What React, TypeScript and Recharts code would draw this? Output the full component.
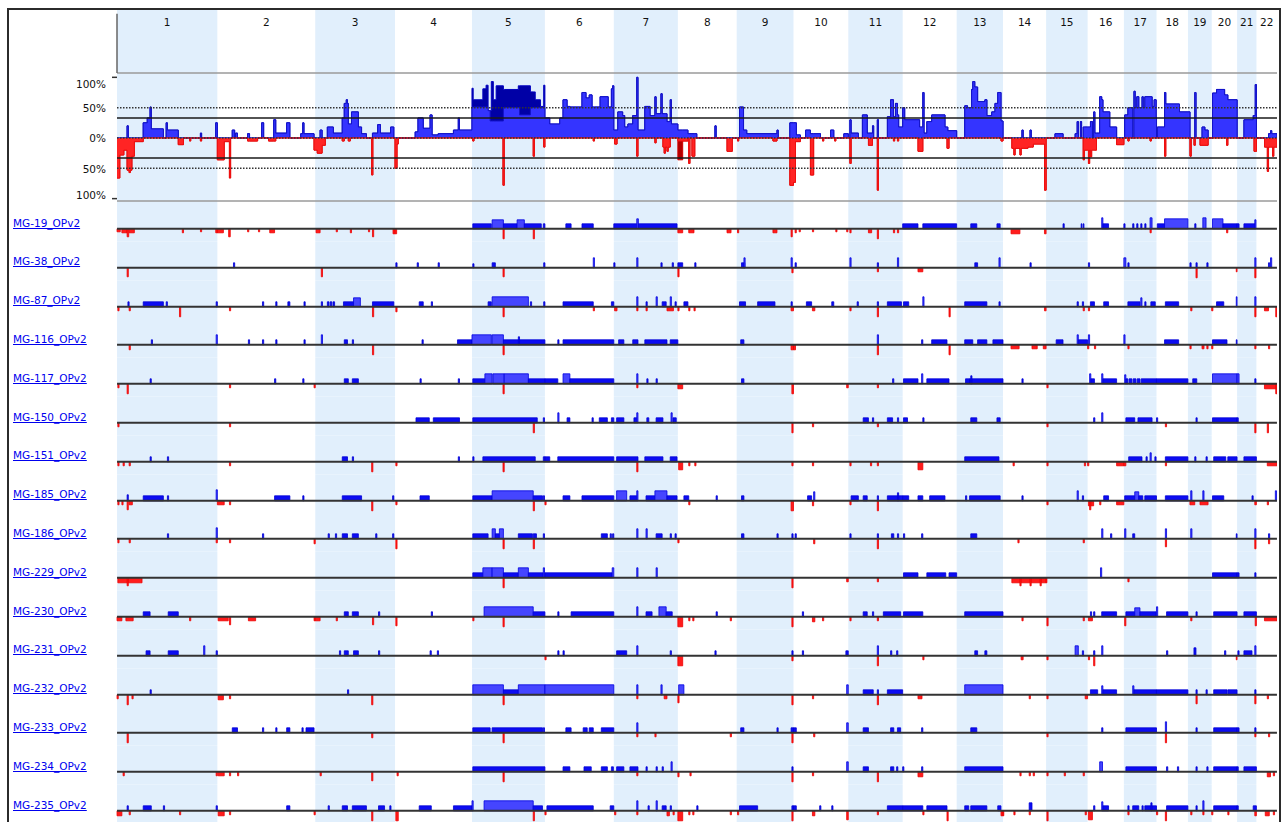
import React from 'react'
import { ComposedChart, Area, XAxis, YAxis, ReferenceArea, ReferenceLine } from 'recharts'

const FONT = '"DejaVu Sans", Verdana, sans-serif'

const CHROMS = ['1', '2', '3', '4', '5', '6', '7', '8', '9', '10', '11', '12', '13', '14', '15', '16', '17', '18', '19', '20', '21', '22']
// chromosome lengths, Mb
const CHROM_MB = [249, 243, 198, 191, 181, 171, 159, 146, 141, 136, 135, 134, 115, 107, 103, 90, 81, 78, 59, 63, 48, 51]

const OFFSETS: number[] = []
let acc = 0
CHROM_MB.forEach((l) => {
  OFFSETS.push(acc)
  acc += l
})
const GENOME = acc

// [chromosome, start Mb, end Mb, value]
type Seg = [number, number, number, number]

// frequency of gains (%)
const GAIN_FREQ: Seg[] = [
  [1, 25, 28, 20], [1, 65, 75, 25], [1, 75, 82, 33], [1, 82, 85, 51], [1, 85, 115, 15], [1, 122, 125, 25], [1, 125, 152, 13], [1, 207, 210, 8], [1, 245, 249, 25],
  [2, 37, 43, 13], [2, 45, 50, 8], [2, 75, 80, 7], [2, 110, 115, 25], [2, 140, 145, 30], [2, 145, 172, 8], [2, 172, 180, 25], [2, 207, 240, 7], [2, 212, 215, 25],
  [3, 12, 17, 13], [3, 30, 45, 18], [3, 45, 67, 8], [3, 67, 72, 33], [3, 72, 82, 57], [3, 77, 80, 63], [3, 82, 90, 23], [3, 90, 107, 43], [3, 107, 115, 18], [3, 115, 127, 7], [3, 142, 155, 8], [3, 155, 162, 22], [3, 162, 187, 8], [3, 187, 195, 18],
  [4, 50, 57, 10], [4, 57, 70, 33], [4, 70, 87, 16], [4, 87, 92, 38], [4, 92, 107, 5], [4, 107, 145, 7], [4, 145, 157, 13], [4, 157, 160, 33], [4, 160, 191, 13],
  [5, 0, 3, 82], [5, 3, 27, 63], [5, 27, 35, 81], [5, 35, 40, 87], [5, 40, 48, 45], [5, 48, 53, 93], [5, 53, 60, 63], [5, 60, 78, 86], [5, 78, 115, 80], [5, 115, 145, 86], [5, 145, 157, 76], [5, 157, 170, 63], [5, 170, 178, 52], [5, 178, 181, 87],
  [6, 0, 12, 33], [6, 12, 37, 23], [6, 37, 45, 33], [6, 45, 55, 63], [6, 55, 62, 52], [6, 62, 92, 51], [6, 92, 102, 75], [6, 102, 110, 66], [6, 110, 117, 71], [6, 117, 137, 51], [6, 137, 157, 68], [6, 157, 165, 51], [6, 165, 168, 81], [6, 168, 171, 86],
  [7, 0, 10, 13], [7, 10, 22, 43], [7, 22, 27, 37], [7, 27, 35, 18], [7, 35, 47, 23], [7, 47, 57, 37], [7, 57, 60, 100], [7, 60, 77, 13], [7, 77, 90, 52], [7, 90, 102, 37], [7, 102, 105, 68], [7, 105, 117, 40], [7, 117, 120, 73], [7, 120, 132, 40], [7, 132, 140, 27], [7, 140, 143, 63], [7, 143, 159, 23],
  [8, 0, 25, 13], [8, 25, 47, 7], [8, 92, 95, 20],
  [9, 7, 17, 51], [9, 17, 25, 13], [9, 25, 100, 7], [9, 100, 103, 13], [9, 132, 141, 25],
  [10, 0, 7, 25], [10, 7, 17, 5], [10, 30, 42, 13], [10, 42, 67, 7], [10, 92, 100, 13], [10, 125, 136, 7],
  [11, 4, 7, 30], [11, 7, 25, 8], [11, 35, 47, 38], [11, 47, 60, 8], [11, 60, 63, 20], [11, 72, 75, 30], [11, 97, 105, 35], [11, 105, 112, 63], [11, 112, 117, 35], [11, 117, 122, 57], [11, 122, 125, 38], [11, 125, 135, 18],
  [12, 0, 5, 50], [12, 5, 42, 30], [12, 42, 50, 18], [12, 50, 53, 75], [12, 53, 60, 8], [12, 60, 72, 27], [12, 72, 105, 38], [12, 105, 112, 18], [12, 112, 134, 12],
  [13, 20, 27, 53], [13, 27, 37, 50], [13, 37, 40, 80], [13, 40, 45, 93], [13, 45, 52, 84], [13, 52, 70, 60], [13, 70, 75, 63], [13, 75, 87, 37], [13, 87, 95, 43], [13, 95, 102, 57], [13, 102, 110, 75], [13, 110, 115, 28],
  [14, 47, 50, 13], [14, 67, 70, 13],
  [15, 22, 42, 7], [15, 72, 80, 7], [15, 77, 80, 27], [15, 85, 88, 27], [15, 92, 103, 18],
  [16, 0, 7, 18], [16, 7, 12, 27], [16, 15, 18, 43], [16, 18, 30, 8], [16, 30, 35, 68], [16, 35, 38, 63], [16, 38, 55, 43], [16, 55, 72, 18],
  [17, 2, 10, 38], [17, 10, 22, 50], [17, 25, 28, 77], [17, 28, 32, 50], [17, 32, 37, 68], [17, 37, 45, 50], [17, 45, 48, 68], [17, 48, 52, 50], [17, 52, 70, 68], [17, 70, 75, 52], [17, 75, 80, 63], [17, 80, 81, 33],
  [18, 2, 20, 18], [18, 20, 23, 75], [18, 23, 57, 56], [18, 57, 78, 43],
  [19, 0, 5, 43], [19, 17, 20, 75], [19, 35, 42, 18], [19, 42, 50, 13],
  [20, 2, 12, 74], [20, 12, 32, 80], [20, 32, 40, 71], [20, 40, 63, 63],
  [21, 17, 40, 30], [21, 40, 45, 37], [21, 45, 48, 88],
  [22, 30, 51, 7], [22, 35, 38, 12],
]

// gain frequency without high-level amplification (chr5)
const GAIN_CORE: Seg[] = [
  [5, 0, 45, 51], [5, 45, 78, 28], [5, 78, 118, 50], [5, 118, 145, 38], [5, 145, 181, 50],
]

// frequency of losses (%)
const LOSS_FREQ: Seg[] = [
  [1, 0, 7, -66], [1, 7, 17, -28], [1, 17, 25, -20], [1, 25, 30, -53], [1, 30, 33, -57], [1, 33, 37, -53], [1, 37, 43, -30], [1, 43, 65, -6], [1, 152, 165, -11], [1, 180, 183, -5], [1, 207, 210, -5],
  [2, 0, 17, -36], [2, 17, 32, -6], [2, 30, 33, -66], [2, 75, 100, -5], [2, 127, 145, -5], [2, 240, 243, -20],
  [3, 0, 5, -20], [3, 5, 17, -25], [3, 17, 25, -12], [3, 67, 72, -5], [3, 82, 87, -5], [3, 140, 143, -61],
  [4, 0, 5, -50], [4, 5, 8, -10],
  [5, 2, 5, -5], [5, 77, 80, -78], [5, 152, 155, -30], [5, 178, 181, -15],
  [6, 120, 123, -5],
  [7, 2, 8, -10], [7, 57, 60, -30], [7, 102, 105, -8], [7, 122, 140, -15], [7, 125, 128, -25], [7, 132, 135, -22],
  [8, 0, 12, -36], [8, 12, 25, -5], [8, 27, 30, -42], [8, 35, 42, -30], [8, 122, 135, -22],
  [9, 2, 5, -5], [9, 90, 100, -5], [9, 132, 141, -78],
  [10, 0, 5, -73], [10, 5, 17, -6], [10, 42, 50, -61], [10, 72, 75, -5], [10, 102, 105, -5],
  [11, 4, 7, -42], [11, 50, 60, -12], [11, 72, 75, -86], [11, 112, 115, -5], [11, 122, 125, -5],
  [12, 38, 50, -22], [12, 110, 115, -17],
  [13, 110, 115, -5],
  [14, 22, 42, -17], [14, 27, 30, -28], [14, 42, 45, -28], [14, 45, 62, -17], [14, 62, 75, -15], [14, 75, 103, -10], [14, 103, 107, -86],
  [15, 92, 103, -20], [15, 92, 95, -36],
  [16, 0, 22, -20], [16, 2, 5, -42], [16, 7, 10, -31], [16, 72, 90, -11],
  [17, 10, 13, -5], [17, 65, 68, -5],
  [18, 20, 23, -30],
  [19, 5, 8, -30], [19, 15, 18, -12], [19, 30, 50, -12],
  [20, 37, 40, -12],
  [21, 42, 48, -22],
  [22, 20, 51, -15], [22, 27, 30, -55], [22, 40, 43, -30],
]

const LOSS_CORE: Seg[] = [[8, 0, 12, -5]]

const SAMPLES = [
  'MG-19_OPv2', 'MG-38_OPv2', 'MG-87_OPv2', 'MG-116_OPv2', 'MG-117_OPv2', 'MG-150_OPv2', 'MG-151_OPv2', 'MG-185_OPv2',
  'MG-186_OPv2', 'MG-229_OPv2', 'MG-230_OPv2', 'MG-231_OPv2', 'MG-232_OPv2', 'MG-233_OPv2', 'MG-234_OPv2', 'MG-235_OPv2',
]

// per-sample segments: positive = gain, negative = loss
const MG19: Seg[] = [
  [1, 0, 8, -0.3], [1, 12, 25, -0.4], [1, 25, 29, -0.8], [1, 30, 43, -0.4], [1, 162, 165, -0.4], [1, 207, 210, -0.3], [1, 245, 249, -0.4], [2, 0, 15, -0.4], [2, 28, 32, -0.8], [2, 75, 78, -0.3], [2, 102, 105, -0.3], [2, 130, 142, -0.4],
  [3, 2, 12, -0.4], [3, 52, 55, -0.3], [3, 87, 90, -0.4], [3, 132, 135, -0.3], [3, 142, 145, -0.8], [3, 193, 198, -0.5], [4, 0, 4, -0.5],
  [5, 2, 48, 0.5], [5, 50, 78, 0.9], [5, 78, 112, 0.5], [5, 112, 130, 0.9], [5, 130, 172, 0.5], [5, 177, 181, 0.5], [6, 52, 65, 0.5], [6, 92, 120, 0.5], [7, 0, 57, 0.5], [7, 57, 61, 1.0], [7, 61, 157, 0.5],
  [5, 77, 80, -1.0], [5, 152, 155, -1.0], [8, 0, 12, -0.4], [8, 27, 40, -0.4], [8, 122, 132, -0.4], [9, 2, 5, -0.4], [9, 90, 100, -0.4], [9, 135, 138, -0.8], [10, 4, 7, -0.4], [10, 14, 17, -0.3], [10, 47, 50, -0.3], [10, 105, 108, -0.3], [10, 132, 135, -0.3],
  [11, 4, 7, -0.4], [11, 50, 58, -0.4], [11, 72, 75, -1.0], [11, 112, 115, -0.4], [11, 122, 125, -0.4], [14, 20, 42, -0.5], [14, 103, 107, -0.5], [17, 65, 68, -0.4], [20, 37, 40, -0.4],
  [12, 0, 38, 0.5], [12, 50, 134, 0.5], [13, 35, 50, 0.5], [13, 100, 108, 0.5], [15, 42, 45, 0.5], [15, 87, 89, 0.5], [15, 92, 94, 0.5], [16, 35, 38, 1.1], [16, 38, 52, 0.5],
  [17, 0, 3, 0.5], [17, 22, 25, 0.5], [17, 32, 35, 0.5], [17, 42, 45, 0.5], [17, 52, 55, 0.5], [17, 65, 70, 1.1], [18, 2, 20, 0.5], [18, 20, 78, 1.0], [19, 17, 20, 0.5], [19, 37, 45, 1.1],
  [20, 2, 28, 1.0], [20, 28, 63, 0.5], [21, 0, 5, 0.5], [21, 17, 45, 0.5], [21, 44, 47, 0.9],
]
const MG38: Seg[] = [
  [2, 40, 43, 0.5], [4, 2, 5, 0.5], [4, 55, 58, 0.5], [4, 107, 110, 0.5], [5, 2, 5, 0.4], [5, 50, 58, 0.5], [5, 178, 181, 0.5], [6, 120, 123, 1.0], [7, 0, 3, 0.5], [7, 57, 60, 1.0], [7, 117, 120, 0.5], [7, 145, 148, 0.5],
  [8, 0, 12, 0.5], [8, 42, 45, 0.5], [9, 12, 20, 0.5], [9, 18, 21, 1.0], [9, 135, 138, 1.0], [10, 4, 7, 0.5], [11, 4, 7, 1.0], [11, 72, 75, 0.5], [11, 122, 125, 1.0], [13, 45, 52, 0.5], [13, 105, 108, 1.0], [14, 67, 70, 0.5],
  [16, 2, 5, 0.5], [17, 0, 5, 1.0], [17, 10, 13, 0.5], [19, 5, 8, 0.5], [19, 20, 23, 0.5], [19, 47, 50, 0.5], [21, 44, 47, 1.0], [22, 30, 33, 0.5], [22, 35, 38, 1.0],
  [1, 25, 28, -0.9], [3, 15, 18, -0.9], [5, 77, 80, -0.9], [8, 0, 3, -0.9], [9, 137, 140, -0.5], [11, 72, 75, -0.4], [12, 38, 50, -0.4], [19, 20, 23, -1.0], [20, 61, 63, -0.4], [21, 44, 47, -1.0],
]
const MG87: Seg[] = [
  [1, 27, 30, 0.5], [1, 65, 115, 0.5], [1, 122, 125, 0.5], [1, 246, 249, 0.5], [2, 112, 115, 0.5], [2, 145, 148, 0.5], [2, 175, 180, 0.5], [2, 215, 218, 0.5], [3, 15, 18, 0.5], [3, 30, 34, 0.5], [3, 37, 41, 0.5], [3, 44, 48, 0.5],
  [3, 70, 95, 0.5], [3, 95, 112, 0.9], [3, 142, 195, 0.5], [4, 60, 70, 0.5], [4, 90, 93, 0.5], [5, 40, 48, 0.5], [5, 50, 140, 1.0], [5, 145, 148, 0.5], [5, 178, 181, 0.5], [6, 45, 120, 0.5], [6, 165, 171, 0.5],
  [7, 57, 60, 1.0], [7, 80, 83, 0.5], [7, 105, 108, 1.0], [7, 120, 130, 0.5], [7, 140, 143, 1.0], [7, 152, 155, 0.5], [8, 15, 25, 0.5], [9, 7, 22, 0.5], [9, 52, 95, 0.5], [9, 135, 138, 0.5], [10, 32, 45, 0.5], [10, 95, 100, 0.5],
  [11, 22, 25, 0.5], [11, 72, 75, 0.5], [11, 97, 132, 0.5], [12, 2, 15, 0.5], [12, 50, 53, 1.0], [13, 20, 75, 0.5], [13, 105, 108, 0.5], [15, 77, 80, 0.5], [15, 90, 93, 0.5], [16, 7, 17, 0.5], [16, 40, 52, 0.5],
  [17, 10, 40, 0.5], [17, 42, 45, 0.9], [17, 52, 55, 0.5], [17, 67, 78, 0.5], [18, 22, 55, 0.5], [20, 12, 30, 0.5], [20, 61, 63, 1.0], [21, 44, 47, 1.0],
  [1, 2, 5, -0.4], [1, 30, 33, -0.4], [1, 155, 158, -1.0], [2, 30, 33, -0.4], [3, 142, 145, -1.0], [4, 2, 5, -0.5], [5, 77, 80, -1.0], [6, 120, 123, -0.4], [7, 2, 8, -0.4], [7, 57, 60, -0.4], [7, 80, 83, -0.4], [7, 132, 148, -0.4],
  [8, 0, 3, -0.4], [8, 27, 30, -0.4], [8, 40, 43, -0.4], [9, 135, 141, -0.4], [10, 47, 53, -0.4], [11, 4, 7, -0.4], [11, 72, 75, -1.0], [12, 115, 118, -1.0], [14, 103, 107, -0.4], [15, 92, 95, -0.4], [16, 2, 5, -0.4],
  [19, 7, 10, -0.4], [20, 0, 3, -0.4], [21, 44, 47, -1.0], [22, 20, 30, -0.4], [22, 48, 51, -1.0],
]
const MG116: Seg[] = [
  [1, 85, 88, 0.5], [1, 246, 249, 1.0], [2, 77, 80, 0.5], [2, 112, 115, 0.5], [2, 145, 148, 0.5], [2, 215, 218, 0.5], [3, 15, 18, 1.0], [3, 72, 80, 0.5], [3, 92, 95, 0.5], [4, 67, 70, 0.5], [4, 155, 191, 0.5],
  [5, 0, 48, 1.0], [5, 50, 78, 1.0], [5, 78, 181, 0.5], [5, 115, 118, 0.8], [6, 32, 35, 0.5], [6, 45, 171, 0.5], [7, 12, 25, 0.5], [7, 47, 60, 0.5], [7, 77, 132, 0.5], [7, 140, 159, 0.5], [9, 10, 18, 0.5],
  [11, 72, 75, 1.0], [12, 47, 50, 0.5], [12, 72, 110, 0.5], [13, 20, 40, 0.5], [13, 52, 75, 0.5], [13, 90, 115, 0.5], [15, 25, 42, 0.5], [15, 77, 80, 1.0], [15, 80, 103, 0.5], [16, 2, 5, 1.0], [17, 0, 3, 1.0],
  [18, 20, 55, 0.5], [20, 2, 38, 0.5], [20, 61, 63, 0.5],
  [1, 30, 33, -0.5], [3, 142, 145, -1.0], [5, 77, 80, -1.0], [9, 135, 141, -0.5], [10, 0, 5, -0.5], [11, 72, 75, -1.0], [12, 115, 118, -1.0], [14, 20, 40, -0.4], [14, 72, 85, -0.4], [14, 100, 107, -0.4],
  [16, 0, 3, -0.4], [16, 17, 20, -0.4], [17, 10, 13, -0.4], [19, 5, 8, -0.4], [19, 35, 40, -0.4], [19, 47, 50, -0.4], [20, 0, 3, -0.4], [21, 44, 47, -0.4], [22, 30, 33, -0.4],
]
const MG117: Seg[] = [
  [1, 82, 85, 0.5], [2, 142, 145, 0.5], [2, 212, 215, 0.5], [3, 72, 82, 0.5], [3, 92, 107, 0.5], [4, 62, 65, 0.5], [4, 157, 160, 0.5], [5, 2, 32, 0.5], [5, 32, 50, 1.0], [5, 52, 80, 1.0], [5, 80, 140, 1.0], [5, 140, 181, 0.5],
  [6, 0, 32, 0.5], [6, 45, 62, 1.0], [6, 62, 171, 0.5], [7, 57, 60, 1.0], [7, 82, 85, 0.5], [7, 105, 108, 0.5], [9, 12, 18, 0.5], [11, 110, 113, 0.5], [12, 2, 38, 0.5], [12, 47, 50, 1.0], [12, 60, 115, 0.5],
  [13, 22, 32, 0.5], [13, 32, 115, 0.5], [13, 35, 38, 0.8], [14, 47, 50, 0.5], [16, 5, 8, 1.0], [16, 8, 17, 0.5], [16, 35, 38, 1.0], [16, 38, 72, 0.5], [17, 2, 5, 0.9], [17, 5, 10, 0.5], [17, 13, 20, 0.5], [17, 23, 30, 0.5],
  [17, 33, 40, 0.5], [17, 43, 81, 0.5], [18, 0, 78, 0.5], [19, 12, 22, 0.5], [20, 2, 63, 1.0], [21, 0, 5, 1.0], [21, 44, 47, 0.5],
  [1, 2, 5, -0.4], [1, 25, 28, -1.0], [2, 30, 33, -0.4], [2, 240, 243, -0.4], [5, 77, 80, -1.0], [7, 57, 60, -0.4], [8, 0, 12, -0.5], [9, 137, 141, -1.0], [10, 132, 136, -0.4], [11, 72, 75, -0.4], [15, 2, 5, -0.4],
  [22, 20, 51, -0.5], [22, 48, 51, -1.0],
]
const MG150: Seg[] = [
  [4, 52, 85, 0.5], [4, 95, 160, 0.5], [5, 2, 162, 0.5], [5, 177, 180, 0.5], [6, 32, 35, 1.0], [6, 55, 62, 0.5], [6, 117, 120, 0.5], [6, 135, 155, 0.5], [6, 165, 171, 0.5], [7, 7, 25, 0.5], [7, 50, 57, 0.5], [7, 57, 60, 1.0],
  [7, 82, 87, 0.5], [7, 105, 122, 0.5], [7, 142, 145, 1.0], [7, 147, 155, 0.5], [11, 37, 50, 0.5], [11, 60, 63, 0.5], [11, 97, 110, 0.5], [11, 122, 125, 0.5], [12, 2, 12, 0.5], [12, 50, 53, 0.5], [13, 35, 50, 0.5],
  [13, 100, 108, 0.5], [16, 15, 18, 0.5], [16, 35, 38, 1.0], [17, 5, 27, 0.5], [17, 35, 70, 0.5], [18, 0, 3, 0.5], [19, 20, 23, 0.5], [20, 2, 63, 0.5], [21, 0, 3, 0.5],
  [1, 2, 5, -0.4], [2, 30, 33, -0.4], [5, 152, 155, -1.0], [9, 137, 140, -1.0], [10, 47, 50, -0.4], [11, 72, 75, -0.4], [15, 2, 5, -0.4], [18, 22, 25, -0.4], [21, 44, 47, -1.0], [22, 27, 30, -1.0],
]
const MG151: Seg[] = [
  [1, 82, 85, 0.5], [1, 125, 128, 0.5], [3, 67, 80, 0.5], [3, 92, 95, 0.5], [4, 157, 160, 0.5], [5, 2, 5, 0.5], [5, 27, 157, 0.5], [5, 177, 181, 0.5], [6, 0, 12, 0.5], [6, 32, 171, 0.5], [7, 7, 60, 0.5], [7, 77, 122, 0.5],
  [7, 140, 157, 0.5], [13, 20, 105, 0.5], [17, 12, 45, 0.5], [17, 55, 58, 0.5], [17, 65, 68, 0.9], [17, 77, 80, 0.5], [18, 22, 78, 0.5], [19, 17, 20, 0.5], [19, 45, 48, 0.5], [20, 5, 35, 0.5], [20, 40, 63, 0.5], [21, 17, 48, 0.5],
  [1, 2, 5, -0.4], [1, 15, 18, -0.4], [1, 30, 33, -0.4], [2, 30, 33, -0.4], [3, 140, 143, -1.0], [4, 2, 5, -0.4], [5, 77, 80, -1.0], [7, 57, 60, -1.0], [8, 2, 12, -0.8], [8, 27, 30, -0.4], [8, 42, 45, -0.4],
  [9, 137, 140, -0.4], [10, 47, 50, -0.4], [11, 4, 7, -0.4], [11, 55, 58, -0.4], [11, 72, 75, -0.4], [12, 38, 50, -0.8], [14, 25, 28, -0.4], [15, 2, 5, -0.4], [15, 95, 98, -0.4], [16, 0, 3, -0.4], [16, 72, 90, -0.4],
  [17, 0, 5, -0.4], [18, 22, 25, -0.4], [22, 27, 51, -0.4],
]
const MG185: Seg[] = [
  [1, 25, 28, 0.6], [1, 65, 115, 0.5], [1, 125, 128, 0.5], [1, 246, 249, 1.1], [2, 142, 180, 0.5], [2, 212, 215, 0.5], [3, 67, 115, 0.5], [3, 192, 195, 0.5], [4, 62, 85, 0.5], [5, 2, 50, 0.5], [5, 50, 152, 1.0], [5, 152, 175, 0.5],
  [5, 177, 180, 0.5], [6, 45, 62, 0.5], [6, 92, 171, 0.5], [7, 7, 32, 1.0], [7, 40, 57, 0.5], [7, 57, 60, 1.0], [7, 80, 102, 0.5], [7, 102, 132, 1.0], [7, 132, 157, 0.5], [8, 15, 27, 0.5], [8, 95, 98, 0.5], [9, 12, 18, 0.5],
  [10, 35, 45, 0.5], [10, 50, 53, 0.9], [11, 7, 25, 0.5], [11, 37, 47, 0.5], [11, 72, 75, 0.5], [11, 97, 135, 0.5], [11, 122, 125, 0.8], [12, 0, 15, 0.5], [12, 38, 50, 0.5], [12, 67, 105, 0.5], [13, 22, 25, 0.5],
  [13, 32, 108, 0.5], [14, 47, 50, 0.5], [15, 77, 80, 1.0], [15, 90, 93, 0.5], [16, 40, 52, 0.5], [17, 2, 27, 0.5], [17, 27, 37, 0.9], [17, 37, 47, 0.5], [17, 52, 81, 0.5], [18, 22, 78, 0.5], [19, 7, 10, 1.0],
  [19, 37, 40, 1.0], [20, 2, 30, 0.5], [21, 37, 40, 0.5], [22, 47, 50, 1.0],
  [1, 2, 5, -0.4], [1, 12, 15, -0.4], [1, 25, 28, -0.9], [1, 30, 38, -0.4], [2, 0, 17, -0.4], [2, 30, 33, -0.4], [3, 140, 143, -1.0], [4, 2, 5, -0.4], [5, 152, 155, -1.0], [6, 0, 3, -0.4], [8, 27, 30, -0.4],
  [9, 135, 141, -1.0], [10, 47, 50, -0.5], [11, 4, 7, -0.4], [11, 72, 75, -1.0], [15, 2, 5, -0.4], [16, 2, 15, -0.5], [16, 5, 8, -0.9], [16, 30, 33, -0.4], [16, 72, 90, -0.4], [19, 5, 17, -0.4], [19, 30, 50, -0.4],
  [21, 44, 48, -0.4], [22, 27, 30, -0.4],
]
const MG186: Seg[] = [
  [1, 125, 128, 0.5], [1, 246, 249, 1.1], [2, 112, 115, 0.5], [3, 32, 35, 0.5], [3, 50, 53, 0.5], [3, 67, 80, 0.5], [3, 92, 107, 0.5], [3, 150, 153, 0.5], [3, 192, 195, 0.5], [5, 2, 40, 0.5], [5, 50, 58, 1.0], [5, 58, 68, 0.5],
  [5, 68, 78, 1.0], [5, 115, 150, 0.5], [5, 152, 160, 0.5], [5, 177, 180, 0.5], [6, 140, 155, 0.5], [6, 162, 165, 0.5], [6, 168, 171, 0.5], [7, 57, 60, 1.0], [7, 80, 83, 1.0], [7, 105, 120, 0.5], [7, 140, 143, 0.5],
  [7, 152, 155, 0.5], [9, 12, 18, 0.5], [9, 100, 103, 0.5], [9, 137, 140, 0.5], [10, 4, 7, 0.5], [11, 4, 7, 0.5], [11, 72, 75, 0.5], [11, 107, 113, 0.5], [11, 122, 125, 0.5], [12, 2, 5, 0.5], [12, 47, 50, 0.5],
  [13, 35, 50, 0.5], [16, 35, 38, 1.0], [16, 57, 60, 0.5], [17, 2, 5, 1.0], [17, 22, 27, 0.5], [18, 22, 25, 1.0], [19, 7, 10, 1.0], [20, 61, 63, 0.5], [21, 44, 47, 1.0], [22, 30, 33, 0.5],
  [1, 2, 5, -0.4], [1, 30, 33, -0.4], [1, 246, 249, -0.4], [2, 30, 33, -0.4], [2, 240, 243, -0.5], [4, 2, 5, -1.0], [5, 77, 80, -1.0], [5, 152, 155, -1.0], [8, 0, 3, -0.4], [10, 50, 53, -0.5], [11, 72, 75, -1.0],
  [14, 37, 40, -0.4], [15, 92, 95, -0.4], [18, 22, 25, -0.8], [21, 44, 47, -1.0], [22, 30, 33, -0.5],
]
const MG229: Seg[] = [
  [5, 2, 27, 0.5], [5, 27, 50, 1.0], [5, 50, 78, 1.0], [5, 78, 115, 0.5], [5, 115, 140, 1.0], [5, 140, 177, 0.5], [5, 177, 180, 1.0], [6, 0, 167, 0.5], [6, 167, 171, 1.0], [7, 57, 60, 1.0], [7, 105, 108, 1.0],
  [12, 2, 38, 0.5], [12, 60, 107, 0.5], [12, 115, 134, 0.5], [16, 32, 35, 1.0], [20, 2, 63, 0.5], [21, 0, 5, 0.5], [21, 44, 47, 0.5],
  [1, 2, 62, -0.5], [1, 25, 28, -0.8], [5, 77, 80, -1.0], [9, 137, 140, -1.0], [10, 132, 136, -0.4], [11, 72, 75, -0.4], [14, 22, 107, -0.5], [15, 0, 2, -0.5], [14, 42, 45, -0.8], [14, 67, 70, -0.8],
  [14, 92, 95, -0.8], [17, 10, 13, -0.4],
]
const MG230: Seg[] = [
  [1, 65, 82, 0.5], [1, 127, 152, 0.5], [3, 72, 82, 0.5], [3, 92, 107, 0.5], [3, 157, 160, 0.5], [4, 90, 93, 0.5], [5, 30, 152, 1.0], [5, 152, 181, 0.5], [6, 32, 35, 0.5], [6, 65, 171, 0.5], [7, 57, 60, 1.0], [7, 80, 95, 0.5],
  [7, 112, 130, 1.0], [7, 130, 145, 0.5], [8, 95, 98, 0.5], [10, 22, 25, 0.5], [11, 37, 47, 0.5], [11, 60, 63, 0.5], [11, 87, 130, 0.5], [12, 2, 50, 0.5], [13, 20, 115, 0.5], [16, 7, 10, 0.5], [16, 15, 18, 0.5],
  [16, 35, 72, 0.5], [17, 5, 27, 0.5], [17, 27, 40, 0.9], [17, 40, 80, 0.5], [18, 0, 3, 1.0], [18, 25, 78, 0.5], [19, 20, 23, 0.5], [20, 5, 63, 0.5], [21, 17, 48, 0.5],
  [1, 0, 12, -0.4], [1, 22, 40, -0.4], [1, 180, 183, -0.4], [2, 2, 27, -0.4], [2, 30, 33, -0.8], [2, 77, 95, -0.4], [2, 240, 243, -0.4], [3, 0, 12, -0.4], [3, 52, 55, -0.4], [3, 142, 145, -0.8], [4, 2, 5, -0.9],
  [5, 2, 5, -0.4], [5, 77, 80, -1.0], [8, 0, 12, -1.0], [8, 27, 30, -0.4], [8, 37, 40, -0.4], [8, 130, 133, -0.4], [9, 137, 140, -1.0], [10, 47, 53, -0.5], [10, 72, 75, -0.4], [11, 4, 7, -0.4], [11, 72, 75, -0.4],
  [14, 47, 50, -0.4], [15, 2, 5, -0.9], [15, 92, 95, -0.4], [16, 2, 12, -0.4], [17, 2, 5, -0.9], [19, 7, 10, -0.4], [21, 45, 48, -0.9], [22, 20, 51, -0.4],
]
const MG231: Seg[] = [
  [1, 72, 82, 0.5], [1, 127, 152, 0.5], [1, 215, 218, 1.0], [1, 246, 249, 0.5], [3, 60, 63, 0.5], [3, 72, 82, 0.5], [3, 95, 107, 0.5], [3, 157, 160, 0.5], [4, 87, 90, 0.5], [4, 105, 108, 0.5], [6, 32, 35, 0.5], [6, 45, 48, 0.5],
  [7, 7, 32, 0.5], [7, 57, 60, 1.0], [7, 140, 143, 0.5], [8, 92, 95, 0.5], [9, 137, 140, 0.5], [10, 22, 25, 0.5], [10, 130, 136, 0.5], [11, 72, 75, 1.0], [11, 105, 108, 0.5], [11, 120, 123, 0.5], [13, 45, 52, 0.5],
  [13, 70, 75, 0.5], [15, 72, 80, 1.0], [15, 90, 93, 0.5], [16, 15, 18, 0.5], [16, 35, 38, 1.0], [18, 25, 28, 0.5], [19, 15, 20, 0.8], [20, 32, 35, 0.5], [21, 2, 5, 0.5], [21, 17, 37, 0.5], [21, 44, 47, 1.0],
  [6, 0, 3, -0.4], [8, 0, 12, -1.0], [9, 137, 140, -0.5], [11, 72, 75, -1.0], [12, 50, 53, -0.4], [14, 45, 50, -0.4], [15, 2, 5, -0.4], [16, 2, 5, -0.4], [16, 15, 18, -1.0], [20, 61, 63, -0.4],
]
const MG232: Seg[] = [
  [1, 82, 85, 0.5], [3, 80, 83, 0.5], [5, 2, 78, 1.0], [5, 78, 115, 0.5], [5, 115, 181, 1.0], [6, 0, 171, 1.0], [7, 57, 60, 1.0], [7, 117, 120, 1.0], [8, 2, 15, 1.0], [10, 132, 136, 1.0], [11, 37, 62, 0.5], [11, 72, 75, 0.5],
  [11, 97, 135, 0.5], [13, 20, 115, 1.0], [16, 7, 25, 0.5], [16, 35, 38, 0.9], [16, 38, 72, 0.5], [17, 22, 25, 0.9], [17, 25, 81, 0.5], [18, 0, 78, 0.5], [19, 20, 23, 0.5], [19, 45, 48, 0.5], [20, 5, 38, 0.5],
  [20, 40, 63, 0.5], [21, 44, 47, 0.5],
  [1, 0, 3, -0.4], [1, 25, 28, -1.0], [1, 37, 40, -0.4], [2, 2, 15, -0.5], [2, 30, 33, -0.4], [3, 140, 143, -1.0], [5, 77, 80, -1.0], [7, 57, 60, -0.4], [7, 125, 132, -0.4], [8, 0, 3, -0.8], [9, 137, 140, -1.0],
  [10, 47, 50, -0.4], [11, 72, 75, -1.0], [12, 38, 48, -0.4], [14, 65, 68, -0.4], [15, 2, 5, -0.4], [15, 97, 103, -0.4], [19, 20, 23, -0.9], [21, 44, 47, -0.9], [22, 27, 30, -0.4],
]
const MG233: Seg[] = [
  [2, 37, 50, 0.5], [2, 112, 115, 0.5], [2, 145, 148, 0.5], [2, 172, 180, 0.5], [2, 210, 213, 0.5], [2, 220, 240, 0.5], [5, 2, 45, 0.5], [5, 50, 175, 0.5], [5, 177, 180, 0.5], [6, 52, 65, 0.5], [6, 95, 105, 0.5],
  [6, 110, 120, 0.5], [6, 140, 171, 0.5], [7, 57, 60, 1.0], [9, 10, 18, 0.5], [9, 100, 103, 0.5], [9, 135, 141, 0.5], [10, 0, 7, 0.5], [10, 132, 136, 1.0], [11, 37, 50, 0.5], [11, 105, 113, 0.5], [11, 122, 130, 0.5],
  [12, 47, 50, 0.5], [13, 35, 50, 0.5], [16, 35, 38, 0.5], [17, 5, 81, 0.5], [18, 22, 25, 1.1], [19, 20, 23, 0.5], [20, 5, 63, 0.5], [21, 0, 5, 0.5], [21, 44, 47, 0.5],
  [1, 25, 28, -1.0], [3, 140, 143, -0.5], [5, 77, 80, -1.0], [7, 57, 60, -0.4], [7, 102, 105, -0.4], [8, 130, 133, -0.4], [9, 137, 140, -1.0], [10, 50, 53, -0.4], [15, 2, 5, -0.4], [18, 22, 25, -1.0],
  [21, 44, 47, -0.4], [22, 30, 33, -0.4],
]
const MG234: Seg[] = [
  [5, 2, 181, 0.5], [6, 45, 62, 0.5], [6, 97, 115, 0.5], [6, 140, 155, 0.5], [6, 165, 170, 0.5], [7, 7, 25, 0.5], [7, 40, 60, 0.5], [7, 80, 83, 0.5], [7, 105, 108, 0.5], [7, 120, 123, 0.5], [7, 142, 145, 1.0],
  [9, 137, 140, 0.5], [10, 132, 136, 1.0], [11, 37, 50, 0.5], [11, 105, 113, 0.5], [11, 120, 123, 0.5], [12, 0, 3, 0.5], [12, 47, 50, 0.5], [13, 20, 115, 0.5], [16, 30, 37, 1.0], [17, 5, 81, 0.5], [18, 25, 28, 0.5],
  [18, 52, 55, 0.5], [19, 20, 23, 0.5], [19, 47, 50, 0.5], [20, 5, 63, 0.5], [21, 0, 3, 0.5], [21, 17, 48, 0.5],
  [1, 15, 18, -0.4], [1, 246, 249, -0.4], [2, 2, 17, -0.4], [2, 30, 33, -0.4], [2, 50, 53, -0.4], [3, 12, 15, -0.4], [3, 140, 143, -0.9], [4, 5, 8, -0.4], [5, 77, 80, -1.0], [7, 57, 60, -0.4], [8, 0, 3, -0.5],
  [8, 30, 33, -0.4], [9, 137, 140, -1.0], [10, 47, 50, -0.4], [11, 72, 75, -1.0], [12, 38, 50, -0.5], [14, 42, 45, -0.4], [14, 65, 68, -0.4], [14, 75, 78, -0.4], [15, 2, 5, -0.4], [15, 45, 48, -0.4],
  [15, 92, 95, -0.4], [22, 27, 35, -0.5], [22, 42, 45, -0.4],
]
const MG235: Seg[] = [
  [1, 25, 28, 0.5], [1, 65, 85, 0.5], [1, 115, 118, 0.5], [1, 246, 249, 0.5], [2, 172, 180, 0.5], [3, 32, 35, 0.5], [3, 67, 80, 0.5], [3, 92, 127, 0.5], [3, 157, 172, 0.5], [3, 185, 188, 0.5], [4, 60, 90, 0.5],
  [4, 145, 191, 0.5], [5, 0, 3, 1.0], [5, 30, 152, 1.0], [5, 152, 175, 0.5], [6, 5, 120, 0.5], [6, 162, 171, 0.5], [7, 57, 60, 1.0], [7, 85, 88, 0.5], [7, 105, 108, 1.0], [7, 120, 130, 0.5], [7, 140, 143, 0.5],
  [8, 47, 50, 0.5], [9, 7, 52, 0.5], [9, 137, 141, 0.5], [10, 0, 7, 0.5], [10, 65, 68, 0.5], [10, 95, 98, 0.5], [11, 97, 135, 0.5], [12, 0, 50, 0.5], [12, 60, 110, 0.5], [13, 20, 30, 0.5], [13, 35, 75, 0.5],
  [13, 102, 110, 0.5], [14, 65, 72, 0.8], [16, 15, 18, 0.5], [16, 35, 38, 0.9], [16, 38, 52, 0.5], [17, 10, 13, 0.5], [17, 22, 37, 0.5], [17, 45, 48, 0.5], [17, 52, 81, 0.5], [17, 67, 70, 0.8], [18, 25, 78, 0.5],
  [19, 20, 23, 0.5], [19, 37, 40, 1.0], [20, 5, 63, 0.5], [21, 0, 3, 0.5], [21, 40, 48, 0.5],
  [1, 0, 12, -0.5], [1, 30, 33, -0.4], [1, 155, 158, -0.4], [2, 2, 17, -0.5], [2, 30, 33, -0.4], [2, 240, 243, -0.4], [3, 140, 143, -1.0], [4, 2, 8, -1.0], [5, 152, 155, -1.0], [6, 0, 3, -0.4], [7, 2, 5, -0.4],
  [7, 57, 60, -0.4], [7, 132, 138, -0.5], [7, 147, 150, -0.4], [8, 0, 12, -1.0], [8, 27, 30, -0.4], [8, 37, 40, -0.4], [8, 130, 133, -0.4], [9, 2, 5, -0.4], [9, 137, 140, -1.0], [10, 47, 53, -0.5],
  [10, 132, 136, -0.9], [11, 72, 75, -0.4], [12, 50, 53, -0.4], [12, 110, 113, -1.0], [13, 110, 115, -0.5], [14, 0, 2, -0.5], [14, 27, 30, -0.4], [14, 65, 68, -0.4], [15, 2, 5, -1.0], [15, 97, 100, -0.4],
  [16, 2, 12, -0.9], [17, 10, 13, -0.4], [18, 0, 3, -0.4], [18, 22, 25, -1.0], [19, 7, 10, -0.4], [19, 37, 40, -0.4], [20, 0, 3, -0.4], [20, 40, 43, -0.4], [21, 44, 48, -0.5], [22, 22, 32, -0.5], [22, 42, 45, -0.4],
]

const SAMPLE_SEGS = [MG19, MG38, MG87, MG116, MG117, MG150, MG151, MG185, MG186, MG229, MG230, MG231, MG232, MG233, MG234, MG235]

const W = 1268
const AXIS_W = 108
const TOP_H = 193
const ROW_H = 38.8
const SHADE = '#e1effc'

const toGlobal = (s: Seg) => ({ start: OFFSETS[s[0] - 1] + s[1], end: OFFSETS[s[0] - 1] + s[2], v: s[3] })

function buildFreqData() {
  const g = GAIN_FREQ.map(toGlobal)
  const gc = GAIN_CORE.map(toGlobal)
  const l = LOSS_FREQ.map(toGlobal)
  const lc = LOSS_CORE.map(toGlobal)
  const pts = new Set<number>([0, GENOME])
  for (const s of [...g, ...gc, ...l, ...lc]) {
    pts.add(s.start)
    pts.add(s.end)
  }
  const covering = (list: typeof g, p: number) => list.filter((s) => s.start <= p && p < s.end)
  return [...pts]
    .sort((a, b) => a - b)
    .map((p) => {
      const gain = Math.max(0, ...covering(g, p).map((s) => s.v))
      const gcs = covering(gc, p)
      const core = gcs.length ? Math.min(gain, Math.max(...gcs.map((s) => s.v))) : gain
      const loss = Math.min(0, ...covering(l, p).map((s) => s.v))
      const lcs = covering(lc, p)
      const lossCore = lcs.length ? Math.max(loss, Math.min(...lcs.map((s) => s.v))) : loss
      return { pos: p, gain, core, loss, lossCore }
    })
}

const FREQ_DATA = buildFreqData()
const AXIS_DATA = [{ pos: 0 }, { pos: GENOME }]

const PctTick = (props: any) => {
  const { y, payload } = props
  const v = payload.value
  const dy = v === 100 ? 7 : v === -100 ? -4 : 0.5
  return (
    <g>
      {Math.abs(v) === 100 && <line x1={103} x2={108} y1={y} y2={y} stroke="#333" strokeWidth={1.5} />}
      <text x={97} y={y + dy} textAnchor="end" dominantBaseline="central" fontSize={10.5} fill="#111">
        {Math.abs(v)}%
      </text>
    </g>
  )
}

function FrequencyChart() {
  return (
    <ComposedChart width={W} height={TOP_H} data={FREQ_DATA} margin={{ top: 0, right: 0, bottom: 0, left: 0 }}>
      <XAxis dataKey="pos" type="number" domain={[0, GENOME]} hide allowDataOverflow />
      <YAxis
        type="number"
        domain={[-107.2, 211]}
        ticks={[100, 50, 0, -50, -100]}
        interval={0}
        width={AXIS_W}
        axisLine={false}
        tickLine={false}
        tick={(p: any) => <PctTick {...p} />}
        allowDataOverflow
      />
      {CHROMS.map((c, i) => (
        <ReferenceArea
          key={c}
          x1={OFFSETS[i]}
          x2={OFFSETS[i] + CHROM_MB[i]}
          fill={i % 2 === 0 ? SHADE : '#ffffff'}
          fillOpacity={i % 2 === 0 ? 1 : 0}
          stroke="none"
          label={{ value: c, position: 'insideTop', offset: 9, fill: '#111', fontSize: 10.5 }}
        />
      ))}
      <ReferenceLine y={107} stroke="#9a9a9a" strokeWidth={1.5} />
      <ReferenceLine y={-104} stroke="#9a9a9a" strokeWidth={1.5} />
      <ReferenceLine segment={[{ x: 0, y: 107 }, { x: 0, y: 205 }]} stroke="#666" strokeWidth={1.5} />
      <Area dataKey="gain" type="stepAfter" baseValue={0} fill="#0000a6" fillOpacity={1} stroke="#0000c0" strokeWidth={1} isAnimationActive={false} />
      <Area dataKey="core" type="stepAfter" baseValue={0} fill="#3434ff" fillOpacity={1} stroke="#1414c8" strokeWidth={1} isAnimationActive={false} />
      <Area dataKey="loss" type="stepAfter" baseValue={0} fill="#b40000" fillOpacity={1} stroke="#d00000" strokeWidth={1} isAnimationActive={false} />
      <Area dataKey="lossCore" type="stepAfter" baseValue={0} fill="#ff2424" fillOpacity={1} stroke="#ee1010" strokeWidth={1} isAnimationActive={false} />
      <ReferenceLine y={50} stroke="#333" strokeWidth={1.5} strokeDasharray="1.5 1.5" />
      <ReferenceLine y={0} stroke="#333" strokeWidth={1.5} strokeDasharray="1.5 1.5" />
      <ReferenceLine y={-50} stroke="#333" strokeWidth={1.5} strokeDasharray="1.5 1.5" />
      <ReferenceLine y={33} stroke="#1a1a1a" strokeWidth={1.5} />
      <ReferenceLine y={-33} stroke="#1a1a1a" strokeWidth={1.5} />
    </ComposedChart>
  )
}

function segColors(v: number) {
  if (v < 0) return { fill: '#ff1c1c', stroke: '#ee0000' }
  if (v >= 0.85) return { fill: '#4545ff', stroke: '#0000e0' }
  return { fill: '#0c0cf2', stroke: '#0000d6' }
}

function SampleRow({ name, segs, top }: { name: string; segs: Seg[]; top: number }) {
  return (
    <div style={{ position: 'absolute', left: 0, top, width: W, height: ROW_H }}>
      <ComposedChart width={W} height={ROW_H} data={AXIS_DATA} margin={{ top: 0, right: 0, bottom: 0, left: 0 }}>
        <XAxis dataKey="pos" type="number" domain={[0, GENOME]} hide allowDataOverflow />
        <YAxis type="number" domain={[-1.3, 2.58]} width={AXIS_W} tick={false} axisLine={false} tickLine={false} allowDataOverflow />
        {CHROMS.map((c, i) =>
          i % 2 === 0 ? (
            <ReferenceArea key={c} x1={OFFSETS[i]} x2={OFFSETS[i] + CHROM_MB[i]} fill={SHADE} fillOpacity={1} stroke="none" />
          ) : null
        )}
        {segs.map((s, k) => {
          const g = toGlobal(s)
          const col = segColors(g.v)
          return (
            <ReferenceArea
              key={k}
              x1={g.start}
              x2={g.end}
              y1={Math.min(0, g.v)}
              y2={Math.max(0, g.v)}
              fill={col.fill}
              fillOpacity={1}
              stroke={col.stroke}
              strokeWidth={0.8}
            />
          )
        })}
        <ReferenceLine y={0} stroke="#333" strokeWidth={2} />
      </ComposedChart>
      <span
        style={{
          position: 'absolute',
          left: 4,
          top: 14.7,
          fontSize: 10.5,
          lineHeight: '11px',
          color: '#0000ee',
          textDecoration: 'underline',
          whiteSpace: 'nowrap',
        }}
      >
        {name}
      </span>
    </div>
  )
}

export default function App() {
  return (
    <div
      style={{
        position: 'fixed',
        left: 7,
        top: 8,
        width: 1274,
        height: 814,
        boxSizing: 'border-box',
        borderTop: '2px solid #2b2b2b',
        borderLeft: '2px solid #2b2b2b',
        borderRight: '2px solid #2b2b2b',
        overflow: 'hidden',
        background: '#fff',
        fontFamily: FONT,
      }}
    >
      <div style={{ position: 'absolute', left: 0, top: 0 }}>
        <FrequencyChart />
      </div>
      {SAMPLES.map((name, i) => (
        <SampleRow key={name} name={name} segs={SAMPLE_SEGS[i]} top={TOP_H + i * ROW_H} />
      ))}
    </div>
  )
}
